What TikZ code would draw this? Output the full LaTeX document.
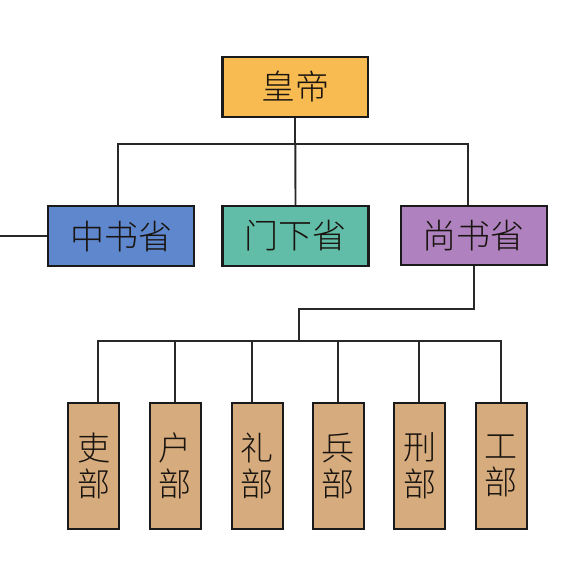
\documentclass[tikz,border=0pt]{standalone}
\usepackage{fontspec}
\newfontfamily\cjk{Noto Sans CJK SC}[UprightFont={* Light}]
\definecolor{cgold}{RGB}{247,187,82}
\definecolor{cblue}{RGB}{95,135,205}
\definecolor{cteal}{RGB}{98,189,168}
\definecolor{cpurple}{RGB}{175,130,191}
\definecolor{ctan}{RGB}{214,172,126}
\definecolor{cedge}{RGB}{26,26,26}
\definecolor{cline}{RGB}{40,40,40}
\definecolor{ctext}{RGB}{25,20,15}
\tikzset{
  bigbox/.style={draw=cedge, line width=2.2pt, minimum width=146pt, minimum height=60pt, inner sep=0pt, font=\cjk\fontsize{34}{36}\selectfont, text=ctext},
  dept/.style={draw=cedge, line width=2pt, minimum width=51pt, minimum height=126pt, inner sep=0pt, align=center, font=\cjk\fontsize{33}{36.5}\selectfont, text=ctext, fill=ctan},
  conn/.style={draw=cline, line width=1.9pt}
}
\begin{document}
\begin{tikzpicture}[x=1pt,y=-1pt]
\useasboundingbox (0,0) rectangle (570,570);
\node[bigbox, fill=cgold, minimum width=145.5pt] (emp) at (295.3,86.7) {皇帝};
\node[bigbox, fill=cblue] (zs) at (121,236.3) {中书省};
\node[bigbox, fill=cteal] (mx) at (295.5,236) {门下省};
\node[bigbox, fill=cpurple, minimum height=59.5pt] (ss) at (473.7,235.5) {尚书省};
\node[dept] (b1) at (93.5,466) {吏\\部};
\node[dept] (b2) at (175,466) {户\\部};
\node[dept] (b3) at (257,466) {礼\\部};
\node[dept] (b4) at (338,466) {兵\\部};
\node[dept] (b5) at (419.5,466) {刑\\部};
\node[dept] (b6) at (501,466) {工\\部};
\coordinate (j1) at (295.3,144.3);
\coordinate (j2) at (299,309.3);
\coordinate (j3) at (299,340.7);
\coordinate (lft) at (0,236.3);
\draw[conn] (emp.south) -- (j1);
\draw[conn] ([xshift=-3pt]zs.north) |- (j1) -| ([xshift=-5.7pt]ss.north);
\draw[conn] (j1) -- (mx.north);
\draw[conn] (lft) -- (zs.west);
\draw[conn] (ss.south) |- (j2) -- (j3);
\draw[conn] ([xshift=4.2pt]b1.north) |- (j3) -| (b6.north);
\draw[conn] (b2.north) -- (b2.north |- j3);
\draw[conn] ([xshift=-5pt]b3.north) -- ([xshift=-5pt]b3.north |- j3);
\draw[conn] (b4.north) -- (b4.north |- j3);
\draw[conn] ([xshift=-0.5pt]b5.north) -- ([xshift=-0.5pt]b5.north |- j3);
\end{tikzpicture}
\end{document}
